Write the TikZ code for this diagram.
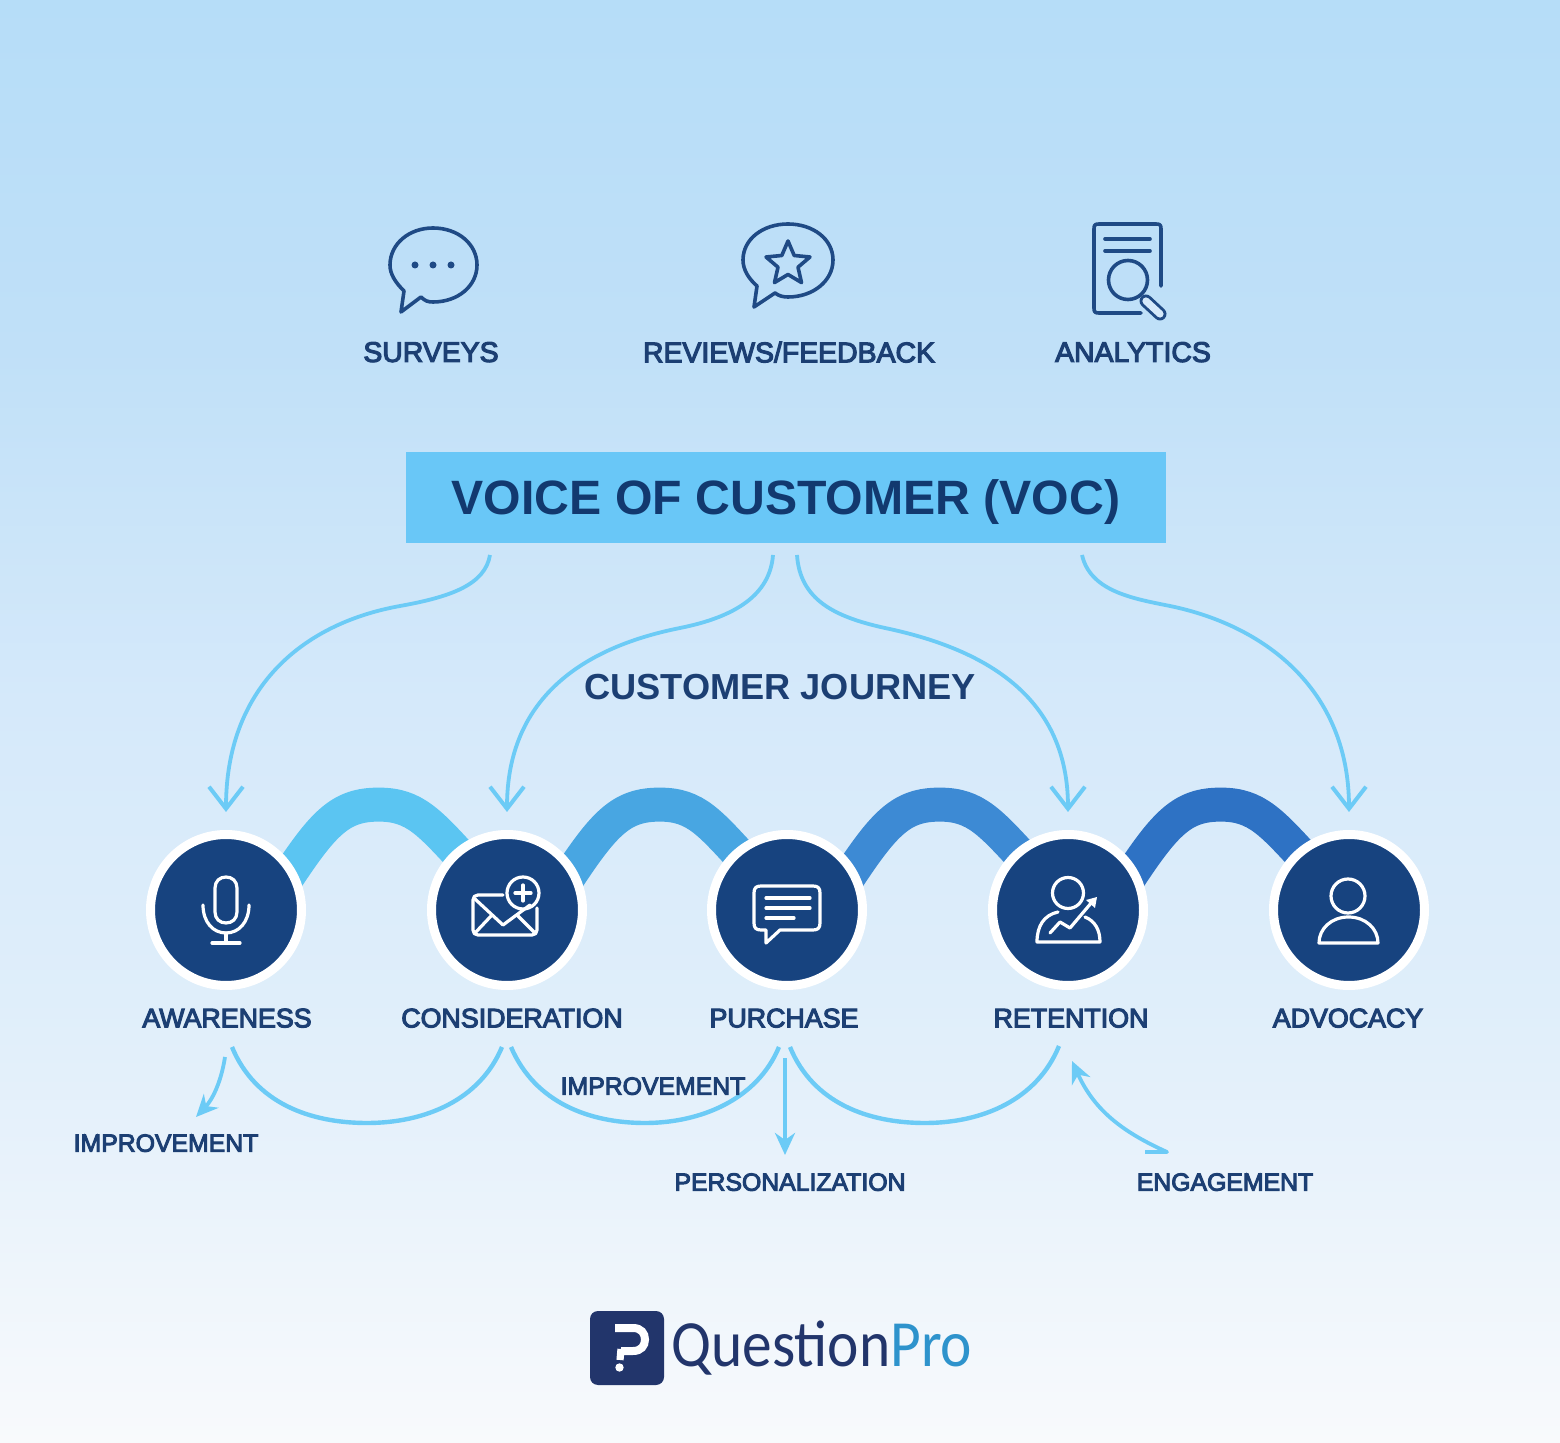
\documentclass[tikz,border=0pt]{standalone}
\usepackage{fontspec}
\usetikzlibrary{arrows.meta}
\newfontfamily\labfont{Liberation Sans}[FakeBold=4]
\newfontfamily\headfont{Liberation Sans Bold}
\newfontfamily\logofont{Carlito}[FakeStretch=0.9]
\definecolor{bgA}{HTML}{B6DDF8}
\definecolor{bgB}{HTML}{C0E0F8}
\definecolor{bgC}{HTML}{D5E9FA}
\definecolor{bgD}{HTML}{DFEEFA}
\definecolor{bgE}{HTML}{EAF3FB}
\definecolor{bgF}{HTML}{F8FAFC}
\definecolor{navy}{HTML}{17437F}
\definecolor{ink}{HTML}{1C3F73}
\definecolor{titleink}{HTML}{12396F}
\definecolor{iconblue}{HTML}{1F4A85}
\definecolor{sky}{HTML}{6CCBF6}
\definecolor{boxblue}{HTML}{69C7F7}
\definecolor{bandA}{HTML}{5BC5F2}
\definecolor{bandB}{HTML}{48A6E2}
\definecolor{bandC}{HTML}{3D8AD4}
\definecolor{bandD}{HTML}{2E72C4}
\definecolor{logonavy}{HTML}{22356B}
\definecolor{logoblue}{HTML}{2E93CC}
\pgfdeclareverticalshading{vocbg}{100bp}{color(0bp)=(bgF); color(25bp)=(bgF); color(33.4bp)=(bgE); color(40.4bp)=(bgD); color(50.7bp)=(bgC); color(62.9bp)=(bgB); color(75bp)=(bgA); color(100bp)=(bgA)}
\pgfdeclarelayer{back}
\pgfsetlayers{back,main}
\tikzset{
  toplabel/.style={font=\labfont\fontsize{14.2}{16}\selectfont, text=ink, inner sep=0pt, text depth=0pt},
  stagelabel/.style={font=\labfont\fontsize{13.4}{16}\selectfont, text=ink, inner sep=0pt, text depth=0pt},
  smalllabel/.style={font=\labfont\fontsize{12.4}{15}\selectfont, text=ink, inner sep=0pt, text depth=0pt},
  stagecircle/.style={circle, fill=navy, draw=white, line width=4.5pt, minimum size=75.5pt, inner sep=0pt},
  band/.style={line width=17pt, shorten <=-9pt, shorten >=-9pt},
  flow/.style={draw=sky, line width=1.9pt, -{Straight Barb[length=11pt,width=17pt,line width=2pt]}, shorten >=9pt},
  scoop/.style={draw=sky, line width=2.2pt},
  minor/.style={draw=sky, line width=1.9pt, line join=round, -{Stealth[length=11pt,width=10pt,inset=3.5pt]}},
  icon/.style={draw=iconblue, line width=1.8pt, line join=round, line cap=round},
  whiteicon/.style={draw=white, line width=1.6pt, line join=round, line cap=round},
}
\begin{document}
\begin{tikzpicture}[x=0.5pt,y=-0.5pt]
\useasboundingbox (0,0) rectangle (1560,1443);
\begin{pgfonlayer}{back}
\shade[shading=vocbg] (0,0) rectangle (1560,1443);
\end{pgfonlayer}

% source icons
\draw[icon] (401,312)--(404,291) .. controls (395,282) and (390,274) .. (390,265) .. controls (390,244) and (409,228) .. (433,228) .. controls (458,228) and (477,244) .. (477,265) .. controls (477,286) and (458,302) .. (433,302) .. controls (428,302) and (425,301) .. (421,297) -- cycle;
\fill[iconblue] (415,265) circle (3.5) (433,265) circle (3.5) (451,265) circle (3.5);
\draw[icon] (754,307)--(757,286) .. controls (749,279) and (743,270) .. (743,260) .. controls (743,239) and (763,224) .. (788,224) .. controls (813,224) and (833,239) .. (833,260) .. controls (833,281) and (813,297) .. (788,297) .. controls (783,297) and (779,296) .. (775,293) -- cycle;
\draw[icon] (788,241)--(794.2,255.5)--(810,257)--(798,267.2)--(801.5,282.6)--(788,274.5)--(774.5,282.6)--(778,267.2)--(766,257)--(781.8,255.5)--cycle;
\draw[icon] (1161,286)--(1161,229) .. controls (1161,225) and (1160,224) .. (1156,224) -- (1099,224) .. controls (1095,224) and (1094,225) .. (1094,229) -- (1094,308) .. controls (1094,312) and (1095,313) .. (1099,313) -- (1141,313);
\draw[icon] (1105,239)--(1150,239) (1105,251)--(1150,251);
\draw[icon] (1128,280) circle (19.5);
\draw[iconblue, line width=6.5pt, line cap=round] (1146,301)--(1160,314);
\draw[bgC, line width=3.6pt, line cap=round] (1146,301)--(1160,314);

\node[toplabel] (surveys) at (431,352) {SURVEYS};
\node[toplabel] (reviews) at (789,352) {REVIEWS/FEEDBACK};
\node[toplabel] (analytics) at (1133,352) {ANALYTICS};

% VOC box
\node[fill=boxblue, minimum width=380pt, minimum height=45.5pt, inner sep=0pt, text=titleink, text height=22.75pt, text depth=5.5pt, font=\headfont\fontsize{24.1}{28}\selectfont] (voc) at (786,497.5) {VOICE OF CUSTOMER (VOC)};
\coordinate (v1) at (490,555);
\coordinate (v2) at (773,555);
\coordinate (v3) at (797,555);
\coordinate (v4) at (1082,555);

\node[font=\headfont\fontsize{18.1}{20}\selectfont, text=ink, inner sep=0pt, text depth=0pt] (journey) at (780,687) {CUSTOMER JOURNEY};

% stages
\node[stagecircle] (a) at (226,910) {};
\node[stagecircle] (b) at (507,910) {};
\node[stagecircle] (c) at (787,910) {};
\node[stagecircle] (d) at (1068,910) {};
\node[stagecircle] (e) at (1349,910) {};

\begin{pgfonlayer}{back}
\draw[band, bandA] (a.32) .. controls +(30,-46) and +(-38,0) .. +(85,-63) .. controls +(36,0) and +(-25,-27) .. (b.131);
\draw[band, bandB] (b.32) .. controls +(30,-46) and +(-38,0) .. +(85,-63) .. controls +(36,0) and +(-25,-27) .. (c.131);
\draw[band, bandC] (c.32) .. controls +(30,-46) and +(-38,0) .. +(85,-63) .. controls +(36,0) and +(-25,-27) .. (d.131);
\draw[band, bandD] (d.32) .. controls +(30,-46) and +(-38,0) .. +(85,-63) .. controls +(36,0) and +(-25,-27) .. (e.131);
\end{pgfonlayer}

% stage icons
\draw[whiteicon] (215,888) .. controls (215,881) and (220,877) .. (226,877) .. controls (232,877) and (237,881) .. (237,888) -- (237,912) .. controls (237,919) and (232,923) .. (226,923) .. controls (220,923) and (215,919) .. (215,912) -- cycle;
\draw[whiteicon] (203,905) .. controls (203,922) and (213,933) .. (226,933) .. controls (239,933) and (249,922) .. (249,905);
\draw[whiteicon] (226,933)--(226,943) (212,943)--(240,943);

\draw[whiteicon] (503,895)--(478,895) .. controls (475,895) and (473,897) .. (473,900) -- (473,930) .. controls (473,933) and (475,935) .. (478,935) -- (532,935) .. controls (535,935) and (537,933) .. (537,930) -- (537,908);
\draw[whiteicon] (475,899)--(503,925)--(530,905);
\draw[whiteicon] (475,933)--(492,915) (535,933)--(517,915);
\draw[whiteicon] (523,893) circle (16);
\draw[whiteicon] (515,893)--(531,893) (523,885)--(523,901);

\draw[whiteicon] (761,886)--(813,886) .. controls (818,886) and (820,888) .. (820,893) -- (820,923) .. controls (820,928) and (818,930) .. (813,930) -- (780,930) -- (766,943) -- (766,930) -- (761,930) .. controls (756,930) and (754,928) .. (754,923) -- (754,893) .. controls (754,888) and (756,886) .. (761,886) -- cycle;
\draw[whiteicon] (766,898)--(810,898) (766,908)--(810,908) (766,918)--(794,918);

\draw[whiteicon] (1068,893) circle (15.5);
\draw[whiteicon] (1058,912) .. controls (1044,915) and (1037,926) .. (1037,942) -- (1100,942) .. controls (1100,930) and (1095,921) .. (1085,917);
\draw[whiteicon] (1050,933)--(1060,922)--(1070,928)--(1092,902);
\fill[white] (1086,900)--(1097,897)--(1095,908)--cycle;

\draw[whiteicon] (1348,896) circle (17);
\draw[whiteicon] (1319,943)--(1378,943) .. controls (1378,929) and (1366,917) .. (1348.5,917) .. controls (1331,917) and (1319,929) .. (1319,943) -- cycle;

% stage labels
\node[stagelabel] (la) at (227,1018) {AWARENESS};
\node[stagelabel] (lb) at (512,1018) {CONSIDERATION};
\node[stagelabel] (lc) at (784,1018) {PURCHASE};
\node[stagelabel] (ld) at (1071,1018) {RETENTION};
\node[stagelabel] (le) at (1348,1018) {ADVOCACY};

% VOC flows
\draw[flow] (v1) .. controls (485,585) and (450,597) .. (400,606) .. controls (300,624) and (226,690) .. (a.north);
\draw[flow] (v2) .. controls (770,595) and (735,617) .. (680,628) .. controls (580,648) and (507,700) .. (b.north);
\draw[flow] (v3) .. controls (800,600) and (835,617) .. (885,628) .. controls (990,650) and (1068,700) .. (d.north);
\draw[flow] (v4) .. controls (1090,590) and (1130,598) .. (1165,605) .. controls (1265,624) and (1349,690) .. (e.north);

% lower scoops
\coordinate (u1) at (232,1047);
\coordinate (u2) at (502,1047);
\coordinate (u3) at (511,1047);
\coordinate (u4) at (779,1047);
\coordinate (u5) at (790,1047);
\coordinate (u6) at (1059,1046);
\draw[scoop] (u1) .. controls (255,1103) and (310,1123) .. (367,1123) .. controls (425,1123) and (480,1100) .. (u2);
\draw[scoop] (u3) .. controls (535,1103) and (590,1123) .. (645,1123) .. controls (700,1123) and (757,1100) .. (u4);
\draw[scoop] (u5) .. controls (813,1103) and (868,1123) .. (925,1123) .. controls (982,1123) and (1037,1100) .. (u6);

% minor labels
\node[smalllabel] (imp1) at (166,1143) {IMPROVEMENT};
\node[smalllabel] (imp2) at (653,1086) {IMPROVEMENT};
\node[smalllabel] (pers) at (790,1182) {PERSONALIZATION};
\node[smalllabel] (eng) at (1225,1182) {ENGAGEMENT};
\coordinate (m1) at (225,1057);
\coordinate (m2) at (196,1117);
\coordinate (m3) at (785,1058);
\coordinate (m4) at (785,1155);
\coordinate (m5) at (1167,1152);
\coordinate (m6) at (1072,1061);
\draw[minor] (m1) .. controls (221,1083) and (212,1100) .. (m2);
\draw[minor] (m3) -- (m4);
\draw[minor] (1145,1152) -- (m5) .. controls (1125,1133) and (1095,1112) .. (m6);

% logo
\node[fill=logonavy, rounded corners=4pt, minimum size=37pt, inner sep=0pt] (logo) at (627,1348) {};
\draw[white, line width=4pt] (615,1328)--(633,1328) .. controls (641,1328) and (645,1333) .. (645,1339.5) .. controls (645,1346) and (641,1351) .. (633,1351) -- (621,1351);
\draw[white, line width=3.6pt] (621,1349)--(620,1360);
\fill[white] (619.5,1367.5) circle (4.2);
\node[anchor=base west, inner sep=0pt, font=\logofont\fontsize{33}{36}\selectfont, text=logonavy] (brand) at (671,1366) {Question\textcolor{logoblue}{Pro}};
\end{tikzpicture}
\end{document}
